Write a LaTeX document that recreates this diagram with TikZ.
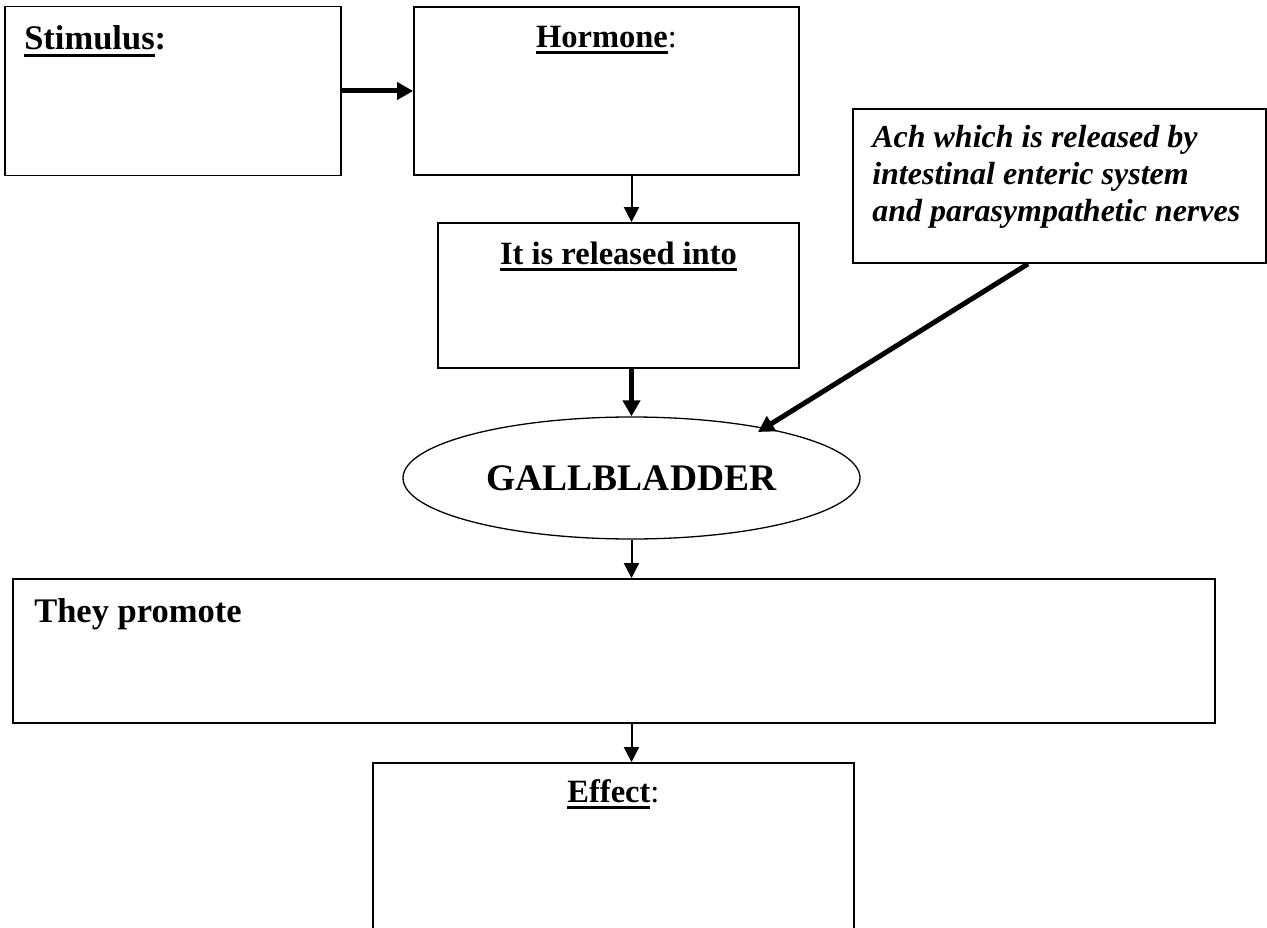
\documentclass[tikz,border=0pt]{standalone}
\usepackage{fontspec}
\setmainfont{Liberation Serif}
\usetikzlibrary{arrows.meta,calc,shapes.geometric}

\newcommand{\ulword}[1]{\setbox0\hbox{#1}\rlap{\rule[-7pt]{\wd0}{3pt}}\box0}

\begin{document}
\begin{tikzpicture}[x=1pt,y=-1pt]
\tikzset{every node/.style={font=\fontsize{32.5}{37}\selectfont\bfseries,inner sep=0pt},
  box/.style={draw,rectangle,line width=1.8pt},
  bigtxt/.style={font=\fontsize{34.5}{40}\selectfont\bfseries},
  thinarr/.style={line width=2pt,-{Triangle[length=15pt,width=15pt]}},
  thickarr/.style={line width=5pt,-{Triangle[length=16pt,width=17pt]}}}
\useasboundingbox (0,0) rectangle (1267,928);

% Boxes (positions taken from the page layout)
\node[box,minimum width=336,minimum height=169] (stim) at (173,91) {};
\node[box,minimum width=385,minimum height=168] (horm) at (606.5,91) {};
\node[box,minimum width=361,minimum height=145] (rel) at (618.5,295.5) {};
\node[box,minimum width=413,minimum height=154] (ach) at (1059.5,186) {};
\node[draw,ellipse,line width=1.3pt,minimum width=457,minimum height=122,
  font=\fontsize{37.5}{40}\selectfont\bfseries] (gall) at (631.5,478) {GALLBLADDER};
\node[box,minimum width=1202,minimum height=144] (prom) at (614,651) {};
\node[box,minimum width=481,minimum height=182] (eff) at (613.5,854) {};

% Texts inside the boxes
\node[bigtxt,anchor=base west] (stimtxt) at ($(stim.north west)+(20,44)$) {\ulword{Stimulus}:};
\node[anchor=base] (hormtxt) at ($(horm.north)+(0,41)$) {\ulword{Hormone}\mdseries:};
\node[anchor=base] (reltxt) at ($(rel.north)+(0,42)$) {\ulword{It is released into}};
\node[anchor=north west,align=left,font=\fontsize{32}{37}\selectfont\bfseries\itshape] (achtxt)
  at ($(ach.north west)+(20,17)$)
  {Ach which is released by\\intestinal enteric system\\and parasympathetic nerves};
\node[bigtxt,anchor=base west] (promtxt) at ($(prom.north west)+(22,44)$) {They promote};
\node[anchor=base] (efftxt) at ($(eff.north)+(0,40)$) {\ulword{Effect}\mdseries:};

% Arrows
\draw[thickarr] (stim.east) -- (horm.west);
\draw[thinarr] (horm.south -| gall.center) -- (rel.north -| gall.center);
\draw[thickarr] (rel.south -| gall.center) -- (gall.north);
\coordinate (achend) at ($(gall.center)+(126.5,-46)$);
\draw[thickarr] ($(ach.south west)!0.424!(ach.south east)$) -- (achend);
\draw[thinarr] (gall.south) -- (prom.north -| gall.center);
\draw[thinarr] (prom.south -| gall.center) -- (eff.north -| gall.center);

\end{tikzpicture}
\end{document}
